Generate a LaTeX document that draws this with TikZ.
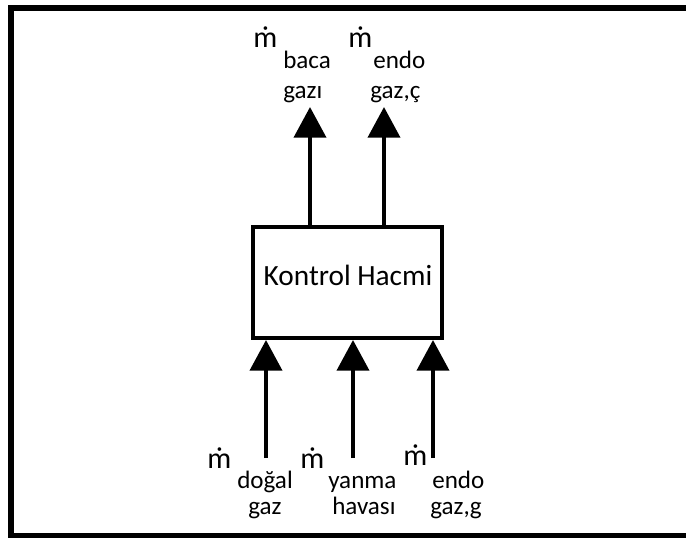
\documentclass[tikz,border=0pt]{standalone}
\usepackage{fontspec}
\setmainfont{Carlito}
\usetikzlibrary{arrows.meta}
\tikzset{
  flow/.style={line width=3pt,-{Triangle[width=24pt,length=23pt]}},
  sub/.style={anchor=base west,inner sep=0pt,font=\fontsize{18.8}{20}\selectfont},
  mdot/.style={anchor=base west,inner sep=0pt,font=\fontsize{22.5}{24}\selectfont},
  volume/.style={draw,line width=3pt,minimum width=141.75pt,minimum height=83.25pt,inner sep=0pt}
}
\begin{document}
\begin{tikzpicture}[x=0.75pt,y=-0.75pt]
\useasboundingbox (0,0) rectangle (686,537);
\begin{scope}
\clip (0,0) rectangle (686,537);
\draw[line width=4.5pt] (11,8) rectangle (700,536);
\end{scope}

% control volume
\node[volume] (kh) at (347.5,282.5) {};
\node[anchor=base,inner sep=0pt,font=\fontsize{22}{24}\selectfont] (khlabel) at (348,285) {Kontrol Hacmi};

% outgoing streams
\coordinate (o1) at (310,107);
\coordinate (o2) at (384,107);
\draw[flow] (kh.north -| o1) -- (o1);
\draw[flow] (kh.north -| o2) -- (o2);

% incoming streams
\coordinate (i1s) at (266,458);
\coordinate (i2s) at (353,458);
\coordinate (i3s) at (433,458);
\draw[flow] (i1s) -- (kh.south -| i1s);
\draw[flow] (i2s) -- (kh.south -| i2s);
\draw[flow] (i3s) -- (kh.south -| i3s);

% labels of outgoing streams
\node[mdot] (m1) at (253,47) {ṁ};
\node[sub] (s1a) at (283,68) {baca};
\node[sub] (s1b) at (283,98) {gazı};
\node[mdot] (m2) at (348,47) {ṁ};
\node[sub] (s2a) at (373,68) {endo};
\node[sub] (s2b) at (370,98) {gaz,ç};

% labels of incoming streams
\node[mdot] (m3) at (207,468) {ṁ};
\node[sub] (s3a) at (237,488) {doğal};
\node[sub] (s3b) at (248,514) {gaz};
\node[mdot] (m4) at (300,468) {ṁ};
\node[sub] (s4a) at (328,488) {yanma};
\node[sub] (s4b) at (332,514) {havası};
\node[mdot] (m5) at (403,465) {ṁ};
\node[sub] (s5a) at (432,488) {endo};
\node[sub] (s5b) at (430,514) {gaz,g};
\end{tikzpicture}
\end{document}
